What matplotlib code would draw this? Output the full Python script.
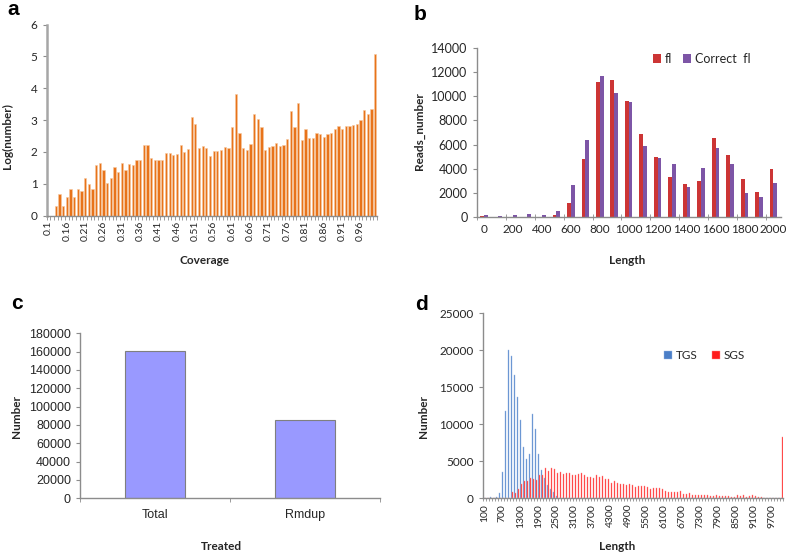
import matplotlib
matplotlib.use("Agg")
import matplotlib.pyplot as plt
import numpy as np
from matplotlib.ticker import FixedLocator

plt.rcParams['font.family'] = ['Lato', 'DejaVu Sans']

# ---------------- data ----------------
# Panel a: coverage bins (90 categories), log10(count)
cov_values = [0, 0, 0.29, 0.68, 0.29, 0.59, 0.83, 0.59, 0.83, 0.76,
              1.17, 0.99, 0.82, 1.60, 1.65, 1.43, 1.03, 1.19, 1.51, 1.38,
              1.65, 1.43, 1.62, 1.59, 1.73, 1.75, 2.23, 2.23, 1.81, 1.75,
              1.74, 1.75, 1.95, 1.97, 1.89, 1.92, 2.23, 2.00, 2.09, 3.11,
              2.87, 2.12, 2.17, 2.13, 1.87, 2.04, 2.04, 2.06, 2.16, 2.12,
              2.77, 3.82, 2.58, 2.12, 2.06, 2.26, 3.20, 3.03, 2.77, 2.06,
              2.14, 2.19, 2.29, 2.20, 2.22, 2.41, 3.28, 2.77, 3.53, 2.38,
              2.71, 2.43, 2.43, 2.58, 2.56, 2.48, 2.56, 2.58, 2.72, 2.83,
              2.72, 2.80, 2.81, 2.86, 2.89, 3.01, 3.32, 3.18, 3.34, 5.09]
cov_ticklabels = ["0.1", "0.16", "0.21", "0.26", "0.31", "0.36", "0.41", "0.46",
                  "0.51", "0.56", "0.61", "0.66", "0.71", "0.76", "0.81", "0.86",
                  "0.91", "0.96"]

# Panel b: read length bins
b_lengths = [0, 100, 200, 300, 400, 500, 600, 700, 800, 900, 1000, 1100, 1200,
             1300, 1400, 1500, 1600, 1700, 1800, 1900, 2000]
b_fl = [20, 0, 0, 0, 0, 170, 1165, 4770, 11170, 11340, 9620, 6870, 4990,
        3300, 2690, 2970, 6570, 5130, 3105, 2020, 3940]
b_correct = [120, 30, 100, 250, 150, 500, 2600, 6380, 11700, 10260, 9565, 5880, 4850,
             4350, 2470, 4020, 5680, 4410, 1970, 1640, 2770]

# Panel c
c_categories = ["Total", "Rmdup"]
c_values = [160500, 85500]

# Panel d: length bins 100..10000
d_lengths = list(range(100, 10001, 100))
d_tgs = [0, 0, 150, 0, 180, 720, 3530, 11800, 19980, 19170,
         16680, 13700, 10580, 6960, 5290, 5970, 11440, 9360, 5970, 3840,
         2800, 1810, 1310, 860, 300] + [0] * 75
d_sgs = [0, 0, 0, 0, 0, 0, 0, 0, 100, 900,
         770, 1220, 1900, 2300, 2350, 2710, 2620, 2530, 3160, 3160,
         4070, 3750, 4070, 3930, 3390, 3620, 3250, 3380, 3420, 3150,
         3200, 3330, 3420, 3200, 2880, 2880, 2750, 3200, 2930, 2970,
         2660, 2570, 2120, 2300, 2120, 1940, 1940, 1800, 1940, 1850,
         1530, 1710, 1710, 1620, 1580, 1310, 1350, 1400, 1400, 1260,
         990, 810, 810, 810, 810, 950, 590, 590, 680, 500,
         400, 450, 400, 450, 400, 270, 270, 400, 320, 320,
         320, 320, 230, 230, 400, 360, 450, 230, 360, 400,
         320, 180, 180, 90, 90, 90, 90, 90, 90, 8240]

# ---------------- figure ----------------
W, H = 787, 554
fig = plt.figure(figsize=(W / 100, H / 100), dpi=100)


def ax_px(l, t, r, b):
    return fig.add_axes([l / W, 1 - b / H, (r - l) / W, (b - t) / H])


AXCOL = '#8C8C8C'
TXT = '#262626'
LABFS = 8.5


def style(ax, lw=1.0):
    for s in ['top', 'right']:
        ax.spines[s].set_visible(False)
    for s in ['left', 'bottom']:
        ax.spines[s].set_color(AXCOL)
        ax.spines[s].set_linewidth(lw)
    ax.tick_params(colors=AXCOL, labelcolor=TXT)


# ---- Panel a ----
ax = ax_px(46.7, 24.7, 377, 215.5)
style(ax)
ax.spines['left'].set_linewidth(1.8)
ax.spines['left'].set_color('#A6A6A6')
xa = np.arange(len(cov_values))
ax.bar(xa, cov_values, width=0.62, color='#E8731A', edgecolor='#F6C9A0', linewidth=0.4)
ax.set_xlim(-0.5, len(cov_values) - 0.5)
ax.set_ylim(0, 6)
ax.set_yticks(range(0, 7))
ax.set_xticks(np.arange(0, len(cov_values), 5))
ax.set_xticklabels(cov_ticklabels, rotation=90, fontsize=7.5)
ax.xaxis.set_minor_locator(FixedLocator(np.arange(-0.5, len(cov_values), 1)))
ax.tick_params(axis='x', which='major', length=0, pad=4)
ax.tick_params(axis='x', which='minor', length=3, color=AXCOL)
ax.tick_params(axis='y', labelsize=8.5, length=3)
fig.text(7 / W, 1 - 136 / H, 'Log(number)', rotation=90, ha='center', va='center',
         fontsize=LABFS, fontweight='bold', color=TXT)
fig.text(204 / W, 1 - 261 / H, 'Coverage', ha='center', va='center',
         fontsize=LABFS, fontweight='bold', color=TXT)
fig.text(7 / W, 1 - 15 / H, 'a', fontsize=15, fontweight='bold',
         family=['Liberation Sans'], va='baseline')

# ---- Panel b ----
ax = ax_px(476.7, 48.3, 780.7, 216.7)
style(ax)
xb = np.arange(len(b_lengths))
ax.bar(xb - 0.13, b_fl, width=0.26, color='#CC3535', label='fl')
ax.bar(xb + 0.13, b_correct, width=0.26, color='#7D55A6', label='Correct  fl')
ax.set_xlim(-0.5, len(b_lengths) - 0.5)
ax.set_ylim(0, 14000)
ax.set_yticks(range(0, 14001, 2000))
ax.set_xticks(xb[::2])
ax.set_xticklabels([str(v) for v in b_lengths[::2]], fontsize=8.5)
ax.xaxis.set_minor_locator(FixedLocator(np.arange(-0.5, len(b_lengths) + 0.5, 2)))
ax.tick_params(axis='x', which='major', length=0, pad=5)
ax.tick_params(axis='x', which='minor', length=4, direction='inout', color=AXCOL)
ax.tick_params(axis='y', labelsize=9, length=3)
ax.legend(loc='center', bbox_to_anchor=(0.74, 0.936), ncol=2, frameon=False,
          fontsize=9, handlelength=0.7, handleheight=0.7, columnspacing=0.8,
          handletextpad=0.3, labelcolor=TXT)
fig.text(419 / W, 1 - 131 / H, 'Reads_number', rotation=90, ha='center', va='center',
         fontsize=LABFS, fontweight='bold', color=TXT)
fig.text(627 / W, 1 - 261 / H, 'Length', ha='center', va='center',
         fontsize=LABFS, fontweight='bold', color=TXT)
fig.text(414 / W, 1 - 20 / H, 'b', fontsize=15, fontweight='bold',
         family=['Liberation Sans'], va='baseline')

# ---- Panel c ----
ax = ax_px(80, 333.3, 380, 498.3)
style(ax)
xc = np.arange(len(c_categories))
ax.bar(xc, c_values, width=0.4, color='#9999FF', edgecolor='#7F7F7F', linewidth=0.8)
ax.set_xlim(-0.5, len(c_categories) - 0.5)
ax.set_ylim(0, 180000)
ax.set_yticks(range(0, 180001, 20000))
ax.set_xticks(xc)
ax.set_xticklabels(c_categories, fontsize=9, family=['Liberation Sans'])
for t in ax.get_yticklabels():
    t.set_family(['Liberation Sans'])
    t.set_fontsize(9)
ax.xaxis.set_minor_locator(FixedLocator(np.arange(-0.5, len(c_categories), 1)))
ax.tick_params(axis='x', which='major', length=0, pad=8)
ax.tick_params(axis='x', which='minor', length=3, color=AXCOL)
ax.tick_params(axis='y', length=3)
fig.text(16.7 / W, 1 - 416 / H, 'Number', rotation=90, ha='center', va='center',
         fontsize=LABFS, fontweight='bold', color=TXT)
fig.text(221 / W, 1 - 546 / H, 'Treated', ha='center', va='center',
         fontsize=LABFS, fontweight='bold', color=TXT)
fig.text(11 / W, 1 - 309 / H, 'c', fontsize=15, fontweight='bold',
         family=['Liberation Sans'], va='baseline')

# ---- Panel d ----
ax = ax_px(482.7, 313.3, 782.7, 498.3)
style(ax)
xd = np.arange(len(d_lengths))
ax.bar(xd + 0.05, d_tgs, width=0.33, color='#4A7EC7', edgecolor='#9DBBE6', linewidth=0.3, label='TGS')
ax.bar(xd + 0.38, d_sgs, width=0.33, color='#FF1A1A', edgecolor='#FF9090', linewidth=0.3, label='SGS')
ax.set_xlim(-0.5, len(d_lengths) - 0.5)
ax.set_ylim(0, 25000)
ax.set_yticks(range(0, 25001, 5000))
ax.set_xticks(xd[::6])
ax.set_xticklabels([str(v) for v in d_lengths[::6]], rotation=90, fontsize=7.5)
ax.xaxis.set_minor_locator(FixedLocator(np.arange(-0.5, len(d_lengths), 1)))
ax.tick_params(axis='x', which='major', length=0, pad=4)
ax.tick_params(axis='x', which='minor', length=2.5, color=AXCOL)
ax.tick_params(axis='y', labelsize=8.5, length=3)
ax.legend(loc='center', bbox_to_anchor=(0.739, 0.77), ncol=2, frameon=False,
          fontsize=8.5, handlelength=0.7, handleheight=0.7, columnspacing=1.2,
          handletextpad=0.3, labelcolor=TXT)
fig.text(423 / W, 1 - 416 / H, 'Number', rotation=90, ha='center', va='center',
         fontsize=LABFS, fontweight='bold', color=TXT)
fig.text(617 / W, 1 - 546 / H, 'Length', ha='center', va='center',
         fontsize=LABFS, fontweight='bold', color=TXT)
fig.text(415 / W, 1 - 310 / H, 'd', fontsize=15, fontweight='bold',
         family=['Liberation Sans'], va='baseline')

fig.savefig('out.png', dpi=100)
